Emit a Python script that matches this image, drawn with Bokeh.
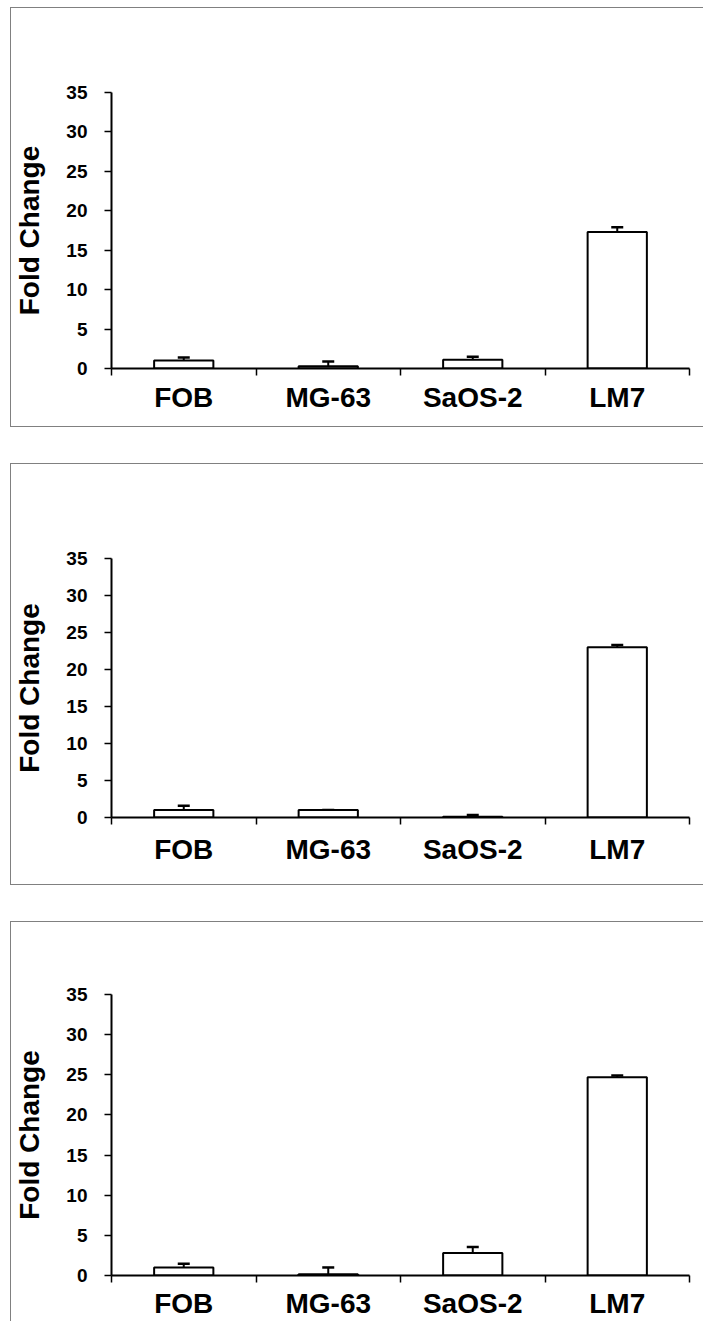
from bokeh.plotting import figure
from bokeh.models import ColumnDataSource, Whisker, TeeHead, FixedTicker, Range1d
from bokeh.layouts import column
from bokeh.embed import file_html
from bokeh.resources import INLINE

categories = ["FOB", "MG-63", "SaOS-2", "LM7"]
y_ticks = [0, 5, 10, 15, 20, 25, 30, 35]
y_max = 35

panel1_values = [1.0, 0.3, 1.1, 17.3]
panel1_errors = [0.4, 0.6, 0.4, 0.6]

panel2_values = [1.0, 1.0, 0.1, 23.0]
panel2_errors = [0.6, 0.0, 0.25, 0.3]

panel3_values = [1.0, 0.15, 2.8, 24.7]
panel3_errors = [0.45, 0.85, 0.75, 0.2]

FONT = "Liberation Sans"


def make_panel(values, errors, height, top, bottom, left, right, label_standoff,
               show_bottom_border=True):
    n = len(categories)
    xs = [i + 0.5 for i in range(n)]
    src = ColumnDataSource(dict(
        x=xs,
        top=values,
        upper=[v + e for v, e in zip(values, errors)],
    ))
    p = figure(width=693, height=height,
               x_range=Range1d(0, n), y_range=Range1d(0, y_max),
               output_backend="svg", toolbar_location=None,
               min_border_left=left, min_border_right=right,
               min_border_top=top, min_border_bottom=bottom,
               background_fill_color="white", border_fill_color="white")
    p.outline_line_color = None
    p.grid.visible = False

    p.vbar(x="x", top="top", bottom=0, width=0.41, source=src,
           fill_color="white", line_color="black", line_width=2)
    w = Whisker(base="x", lower="top", upper="upper", source=src,
                line_color="black", line_width=2, lower_head=None,
                upper_head=TeeHead(size=12, line_color="black", line_width=2.5))
    p.add_layout(w)

    # x axis: ticks at category boundaries, labels at centres
    xa = p.xaxis[0]
    xa.ticker = FixedTicker(ticks=xs, minor_ticks=list(range(n + 1)))
    xa.major_label_overrides = {x: c for x, c in zip(xs, categories)}
    xa.major_tick_out = 0
    xa.major_tick_in = 0
    xa.minor_tick_out = 7
    xa.minor_tick_in = 0
    xa.minor_tick_line_color = "black"
    xa.minor_tick_line_width = 1.5
    xa.axis_line_color = "black"
    xa.axis_line_width = 2
    xa.major_label_standoff = label_standoff
    xa.major_label_text_font = FONT
    xa.major_label_text_font_style = "bold"
    xa.major_label_text_font_size = "28px"
    xa.major_label_text_color = "black"

    ya = p.yaxis[0]
    ya.ticker = FixedTicker(ticks=y_ticks, minor_ticks=[])
    ya.major_tick_out = 7
    ya.major_tick_in = 0
    ya.major_tick_line_color = "black"
    ya.major_tick_line_width = 1.5
    ya.minor_tick_line_color = None
    ya.axis_line_color = "black"
    ya.axis_line_width = 2
    ya.major_label_standoff = 17
    ya.major_label_text_font = FONT
    ya.major_label_text_font_style = "bold"
    ya.major_label_text_font_size = "19px"
    ya.major_label_text_color = "black"
    ya.axis_label = "Fold Change"
    ya.axis_label_text_font = FONT
    ya.axis_label_text_font_style = "bold"
    ya.axis_label_text_font_size = "28px"
    ya.axis_label_text_color = "black"
    ya.axis_label_standoff = 18

    border = "1px solid #808080"
    styles = {"border-left": border, "border-top": border}
    if show_bottom_border:
        styles["border-bottom"] = border
    p.styles = styles
    return p


p1 = make_panel(panel1_values, panel1_errors, 420, 84, 60, 99, 15, 6)
p2 = make_panel(panel2_values, panel2_errors, 422, 94, 69, 98, 15, 9)
p3 = make_panel(panel3_values, panel3_errors, 400, 72, 47, 98, 10, 5,
                show_bottom_border=False)

layout = column(p1, p2, p3, spacing=36, margin=(7, 0, 0, 10))

open("out.html", "w").write(file_html(layout, INLINE))
